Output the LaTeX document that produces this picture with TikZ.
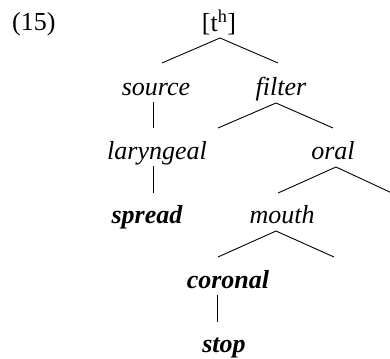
\documentclass[tikz,border=0pt]{standalone}
\usepackage{fontspec}
\setmainfont{Liberation Serif}
\tikzset{
  lbl/.style={anchor=base, inner sep=0pt, font=\fontsize{26}{30}\selectfont\itshape},
  key/.style={lbl, font=\fontsize{26}{30}\selectfont\bfseries\itshape},
  branch/.style={line width=0.9pt}
}

\begin{document}
\begin{tikzpicture}[x=1pt, y=-1pt]
  %%%%% frame %%%%%
  \useasboundingbox (0,0) rectangle (390,358);
  \clip (0,0) rectangle (390,358);

  \node[lbl, anchor=base west, font=\fontsize{26}{30}\selectfont] (num) at (12,31) {(15)};

  %%%%% labels %%%%%
  \node[lbl, font=\fontsize{26}{30}\selectfont] (root) at (219,32) {[t\textsuperscript{h}]};
  \node[lbl] (src) at (156,96) {source};
  \node[lbl] (flt) at (281,96) {filter};
  \node[lbl] (lar) at (157,160) {laryngeal};
  \node[lbl] (orl) at (333,160) {oral};
  \node[key] (spr) at (147,223) {spread};
  \node[lbl] (mth) at (282,223) {mouth};
  \node[key] (cor) at (228,288) {coronal};
  \node[key] (stp) at (224,352) {stop};

  % empty daughters
  \coordinate (fltL) at (218,128);
  \coordinate (orlR) at (394,194);
  \coordinate (mthR) at (334,257);

  %%%%% branches %%%%%
  \draw[branch] ([xshift=6pt,yshift=33pt]src.base) -- ([xshift=1pt,yshift=-6pt]root.base)
                -- ([xshift=-3pt,yshift=33pt]flt.base);
  \draw[branch] ([xshift=-3pt,yshift=-6pt]src.base) -- ([xshift=-4pt,yshift=32pt]lar.base);
  \draw[branch] (fltL) -- ([xshift=-5pt,yshift=-7pt]flt.base) -- ([yshift=32pt]orl.base);
  \draw[branch] ([xshift=-4pt,yshift=-6pt]lar.base) -- ([xshift=6pt,yshift=30pt]spr.base);
  \draw[branch] ([xshift=-4pt,yshift=30pt]mth.base) -- ([xshift=3pt,yshift=-7pt]orl.base) -- (orlR);
  \draw[branch] ([xshift=-10pt,yshift=31pt]cor.base) -- ([xshift=-6pt,yshift=-8pt]mth.base) -- (mthR);
  \draw[branch] ([xshift=-11pt,yshift=-7pt]cor.base) -- ([xshift=-7pt,yshift=30pt]stp.base);
\end{tikzpicture}
\end{document}
